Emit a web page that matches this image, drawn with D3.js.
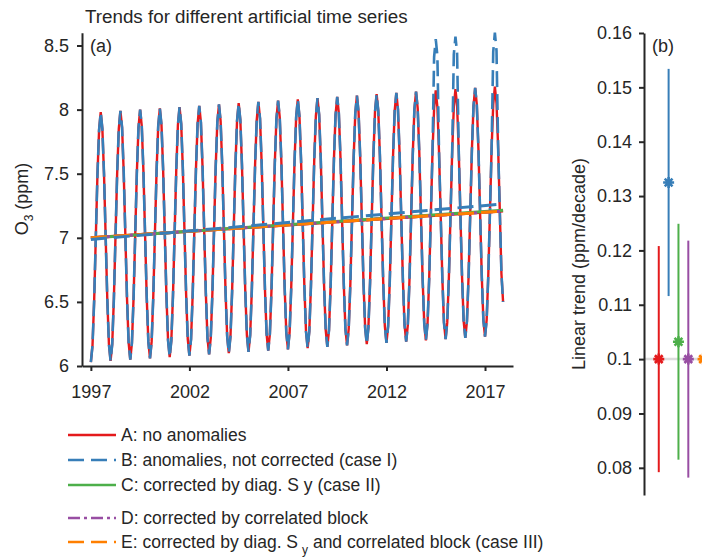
<!DOCTYPE html>
<html>
<head>
<meta charset="utf-8">
<script src="https://cdn.jsdelivr.net/npm/d3@7/dist/d3.min.js"></script>
<style>
  body { margin: 0; background: #fff; }
  svg text { font-family: "Liberation Sans", Arial, Helvetica, sans-serif; fill: #262626; }
</style>
</head>
<body>
<svg id="chart" width="702" height="558"></svg>
<script>
// monthly O3 values (ppm), one row per year, 1997..2017
const seriesA = [
  6.03, 6.16, 6.51, 7.00, 7.49, 7.84, 7.98, 7.85, 7.50, 7.01, 6.52, 6.17,
  6.04, 6.17, 6.52, 7.01, 7.50, 7.85, 7.99, 7.86, 7.51, 7.02, 6.53, 6.18,
  6.05, 6.18, 6.53, 7.02, 7.51, 7.86, 8.00, 7.87, 7.52, 7.03, 6.54, 6.19,
  6.06, 6.19, 6.54, 7.03, 7.52, 7.87, 8.01, 7.88, 7.53, 7.04, 6.55, 6.20,
  6.07, 6.20, 6.55, 7.04, 7.53, 7.88, 8.02, 7.89, 7.54, 7.05, 6.56, 6.21,
  6.08, 6.21, 6.56, 7.05, 7.54, 7.89, 8.03, 7.90, 7.55, 7.06, 6.57, 6.22,
  6.09, 6.22, 6.57, 7.06, 7.55, 7.90, 8.04, 7.91, 7.56, 7.07, 6.58, 6.23,
  6.10, 6.23, 6.58, 7.07, 7.56, 7.91, 8.05, 7.92, 7.57, 7.08, 6.59, 6.24,
  6.11, 6.24, 6.59, 7.08, 7.57, 7.92, 8.06, 7.93, 7.58, 7.09, 6.60, 6.25,
  6.12, 6.25, 6.60, 7.09, 7.58, 7.93, 8.07, 7.94, 7.59, 7.10, 6.61, 6.26,
  6.13, 6.26, 6.61, 7.10, 7.59, 7.94, 8.08, 7.95, 7.60, 7.11, 6.62, 6.27,
  6.14, 6.27, 6.62, 7.11, 7.60, 7.95, 8.09, 7.96, 7.61, 7.12, 6.63, 6.28,
  6.15, 6.28, 6.63, 7.12, 7.61, 7.96, 8.10, 7.97, 7.62, 7.13, 6.64, 6.29,
  6.16, 6.29, 6.64, 7.13, 7.62, 7.97, 8.11, 7.98, 7.63, 7.14, 6.65, 6.30,
  6.17, 6.30, 6.65, 7.14, 7.63, 7.98, 8.12, 7.99, 7.64, 7.15, 6.66, 6.31,
  6.18, 6.31, 6.66, 7.15, 7.64, 7.99, 8.13, 8.00, 7.65, 7.16, 6.67, 6.32,
  6.19, 6.32, 6.67, 7.16, 7.65, 8.00, 8.14, 8.01, 7.66, 7.17, 6.68, 6.33,
  6.20, 6.33, 6.68, 7.17, 7.66, 8.01, 8.15, 8.02, 7.67, 7.18, 6.69, 6.34,
  6.21, 6.34, 6.69, 7.18, 7.67, 8.02, 8.16, 8.03, 7.68, 7.19, 6.70, 6.35,
  6.22, 6.35, 6.70, 7.19, 7.68, 8.03, 8.17, 8.04, 7.69, 7.20, 6.71, 6.36,
  6.23, 6.36, 6.71, 7.20, 7.69, 8.04, 8.18, 8.05, 7.70, 7.21, 6.72, 6.50
];

// same series with anomalies at the summer peaks of 2014, 2015 and 2017
const seriesB = [
  6.03, 6.16, 6.51, 7.00, 7.49, 7.84, 7.98, 7.85, 7.50, 7.01, 6.52, 6.17,
  6.04, 6.17, 6.52, 7.01, 7.50, 7.85, 7.99, 7.86, 7.51, 7.02, 6.53, 6.18,
  6.05, 6.18, 6.53, 7.02, 7.51, 7.86, 8.00, 7.87, 7.52, 7.03, 6.54, 6.19,
  6.06, 6.19, 6.54, 7.03, 7.52, 7.87, 8.01, 7.88, 7.53, 7.04, 6.55, 6.20,
  6.07, 6.20, 6.55, 7.04, 7.53, 7.88, 8.02, 7.89, 7.54, 7.05, 6.56, 6.21,
  6.08, 6.21, 6.56, 7.05, 7.54, 7.89, 8.03, 7.90, 7.55, 7.06, 6.57, 6.22,
  6.09, 6.22, 6.57, 7.06, 7.55, 7.90, 8.04, 7.91, 7.56, 7.07, 6.58, 6.23,
  6.10, 6.23, 6.58, 7.07, 7.56, 7.91, 8.05, 7.92, 7.57, 7.08, 6.59, 6.24,
  6.11, 6.24, 6.59, 7.08, 7.57, 7.92, 8.06, 7.93, 7.58, 7.09, 6.60, 6.25,
  6.12, 6.25, 6.60, 7.09, 7.58, 7.93, 8.07, 7.94, 7.59, 7.10, 6.61, 6.26,
  6.13, 6.26, 6.61, 7.10, 7.59, 7.94, 8.08, 7.95, 7.60, 7.11, 6.62, 6.27,
  6.14, 6.27, 6.62, 7.11, 7.60, 7.95, 8.09, 7.96, 7.61, 7.12, 6.63, 6.28,
  6.15, 6.28, 6.63, 7.12, 7.61, 7.96, 8.10, 7.97, 7.62, 7.13, 6.64, 6.29,
  6.16, 6.29, 6.64, 7.13, 7.62, 7.97, 8.11, 7.98, 7.63, 7.14, 6.65, 6.30,
  6.17, 6.30, 6.65, 7.14, 7.63, 7.98, 8.12, 7.99, 7.64, 7.15, 6.66, 6.31,
  6.18, 6.31, 6.66, 7.15, 7.64, 7.99, 8.13, 8.00, 7.65, 7.16, 6.67, 6.32,
  6.19, 6.32, 6.67, 7.16, 7.65, 8.00, 8.14, 8.01, 7.66, 7.17, 6.68, 6.33,
  6.20, 6.33, 6.68, 7.17, 7.66, 8.41, 8.55, 8.42, 7.67, 7.18, 6.69, 6.34,
  6.21, 6.34, 6.69, 7.18, 7.67, 8.43, 8.57, 8.44, 7.68, 7.19, 6.70, 6.35,
  6.22, 6.35, 6.70, 7.19, 7.68, 8.03, 8.17, 8.04, 7.69, 7.20, 6.71, 6.36,
  6.23, 6.36, 6.71, 7.20, 7.69, 8.45, 8.60, 8.46, 7.70, 7.21, 6.72, 6.50
];
const startYear = 1997;

const caseNames = ['A', 'B', 'C', 'D', 'E'];
const caseColors = ['#e41a1c', '#377eb8', '#4daf4a', '#984ea3', '#ff7f00'];
const caseDash = [null, '16,7', null, '12,4,3,4', '16,7'];
const trendSlope = [0.1, 0.1325, 0.1032, 0.1, 0.1];          // ppm/decade
const trendIntercept = [7.0, 6.987, 6.999, 7.0, 7.0];         // ppm at start
const trendError = [0.0208, 0.0209, 0.0217, 0.0218, 0.0218];  // ppm/decade
const caseX = [1, 2, 3, 4, 5.5];

const xTicksA = [1997, 2002, 2007, 2012, 2017];
const yTicksA = [6, 6.5, 7, 7.5, 8, 8.5];
const yTicksB = [0.08, 0.09, 0.1, 0.11, 0.12, 0.13, 0.14, 0.15, 0.16];

const svg = d3.select('#chart');
svg.append('rect').attr('width', 702).attr('height', 558).attr('fill', '#fff');

// ---------- panel (a)
const x = d3.scaleLinear().domain([1996.55, 2018.42]).range([82, 513]);
const y = d3.scaleLinear().domain([6, 8.6]).range([366, 32.7]);
const fmt = d3.format('~g');

const monthly = s => s.map((v, k) => [startYear + k / 12, v]);
const line = d3.line().x(d => x(d[0])).y(d => y(d[1]));

svg.append('path')
  .datum(monthly(seriesA))
  .attr('d', line)
  .attr('fill', 'none')
  .attr('stroke', caseColors[0])
  .attr('stroke-width', 2.4);

svg.append('path')
  .datum(monthly(seriesB))
  .attr('d', line)
  .attr('fill', 'none')
  .attr('stroke', caseColors[1])
  .attr('stroke-width', 2.6)
  .attr('stroke-dasharray', caseDash[1]);

// trend lines, drawn A, C, D, E, then B
const tEnd = startYear + (seriesA.length - 1) / 12;
[0, 2, 3, 4, 1].forEach(i => {
  const pts = [[startYear, trendIntercept[i]],
    [tEnd, trendIntercept[i] + trendSlope[i] * (tEnd - startYear) / 10]];
  svg.append('path')
    .datum(pts)
    .attr('d', line)
    .attr('fill', 'none')
    .attr('stroke', caseColors[i])
    .attr('stroke-width', 3)
    .attr('stroke-dasharray', caseDash[i]);
});

const gxA = svg.append('g')
  .attr('transform', 'translate(0,366)')
  .call(d3.axisBottom(x).tickValues(xTicksA).tickFormat(d3.format('d'))
    .tickSize(5).tickSizeOuter(0).tickPadding(14));
const gyA = svg.append('g')
  .attr('transform', 'translate(82,0)')
  .call(d3.axisLeft(y).tickValues(yTicksA).tickFormat(fmt)
    .tickSize(5).tickSizeOuter(0).tickPadding(8));

svg.append('text')
  .attr('x', 85).attr('y', 23)
  .style('font-size', '18.8px')
  .text('Trends for different artificial time series');

svg.append('text')
  .attr('x', 90).attr('y', 52)
  .style('font-size', '18px')
  .text('(a)');

const yLabA = svg.append('text')
  .attr('transform', 'translate(28,199) rotate(-90)')
  .attr('text-anchor', 'middle')
  .style('font-size', '18px');
yLabA.append('tspan').text('O');
yLabA.append('tspan').attr('dy', 5).style('font-size', '12px').text('3');
yLabA.append('tspan').attr('dy', -5).text(' (ppm)');

// ---------- panel (b)
const xb = d3.scaleLinear().domain([-0.5, 6]).range([644, 708]);
const yb = d3.scaleLinear().domain([0.075, 0.16]).range([495, 33]);

svg.append('line')
  .attr('x1', xb(-0.5)).attr('x2', xb(6))
  .attr('y1', yb(0.1)).attr('y2', yb(0.1))
  .attr('stroke', '#dcdcdc')
  .attr('stroke-width', 2.5);

svg.append('g')
  .selectAll('line')
  .data(trendSlope)
  .enter()
  .append('line')
  .attr('x1', (d, i) => xb(caseX[i]))
  .attr('x2', (d, i) => xb(caseX[i]))
  .attr('y1', (d, i) => yb(d - trendError[i]))
  .attr('y2', (d, i) => yb(d + trendError[i]))
  .attr('stroke', (d, i) => caseColors[i])
  .attr('stroke-width', 2);

const r = 5.5, a = r * 0.7071;
const star = `M${-r},0L${r},0M0,${-r}L0,${r}M${-a},${-a}L${a},${a}M${-a},${a}L${a},${-a}`;
svg.append('g')
  .selectAll('path')
  .data(trendSlope)
  .enter()
  .append('path')
  .attr('transform', (d, i) => `translate(${xb(caseX[i])},${yb(d)})`)
  .attr('d', star)
  .attr('fill', 'none')
  .attr('stroke', (d, i) => caseColors[i])
  .attr('stroke-width', 2.6);

const gyB = svg.append('g')
  .attr('transform', 'translate(644,0)')
  .call(d3.axisLeft(yb).tickValues(yTicksB).tickFormat(fmt)
    .tickSize(5).tickSizeOuter(0).tickPadding(7));

svg.append('text')
  .attr('x', 652).attr('y', 52)
  .style('font-size', '18px')
  .text('(b)');

svg.append('text')
  .attr('transform', 'translate(585,264) rotate(-90)')
  .attr('text-anchor', 'middle')
  .style('font-size', '18px')
  .text('Linear trend (ppm/decade)');

// axis styling
[gxA, gyA, gyB].forEach(g => {
  g.select('.domain').attr('stroke', '#262626').attr('stroke-width', 2);
  g.selectAll('.tick line').attr('stroke', '#262626').attr('stroke-width', 2);
  g.selectAll('.tick text')
    .attr('fill', '#262626')
    .style('font-family', '"Liberation Sans", Arial, sans-serif')
    .style('font-size', '18px');
});

// ---------- legend
const legendLabels = [
  ['A: no anomalies'],
  ['B: anomalies, not corrected (case I)'],
  ['C: corrected by diag. S y (case II)'],
  ['D: corrected by correlated block'],
  ['E: corrected by diag. S', 'y', ' and correlated block (case III)']
];
const legendY = [435, 460, 485, 518, 542];

const legend = svg.append('g')
  .selectAll('g')
  .data(caseNames)
  .enter()
  .append('g')
  .attr('transform', (d, i) => `translate(0,${legendY[i]})`);

legend.append('line')
  .attr('x1', 68).attr('x2', 116)
  .attr('stroke', (d, i) => caseColors[i])
  .attr('stroke-width', 2.4)
  .attr('stroke-dasharray', (d, i) => caseDash[i]);

legend.append('text')
  .attr('x', 121)
  .attr('dy', '0.36em')
  .style('font-size', '17.5px')
  .each(function (d, i) {
    const parts = legendLabels[i];
    const t = d3.select(this);
    t.append('tspan').text(parts[0]);
    if (parts.length > 1) {
      t.append('tspan').attr('dx', 4).attr('dy', 6).style('font-size', '12px').text(parts[1]);
      t.append('tspan').attr('dy', -6).text(parts[2]);
    }
  });
</script>
</body>
</html>
